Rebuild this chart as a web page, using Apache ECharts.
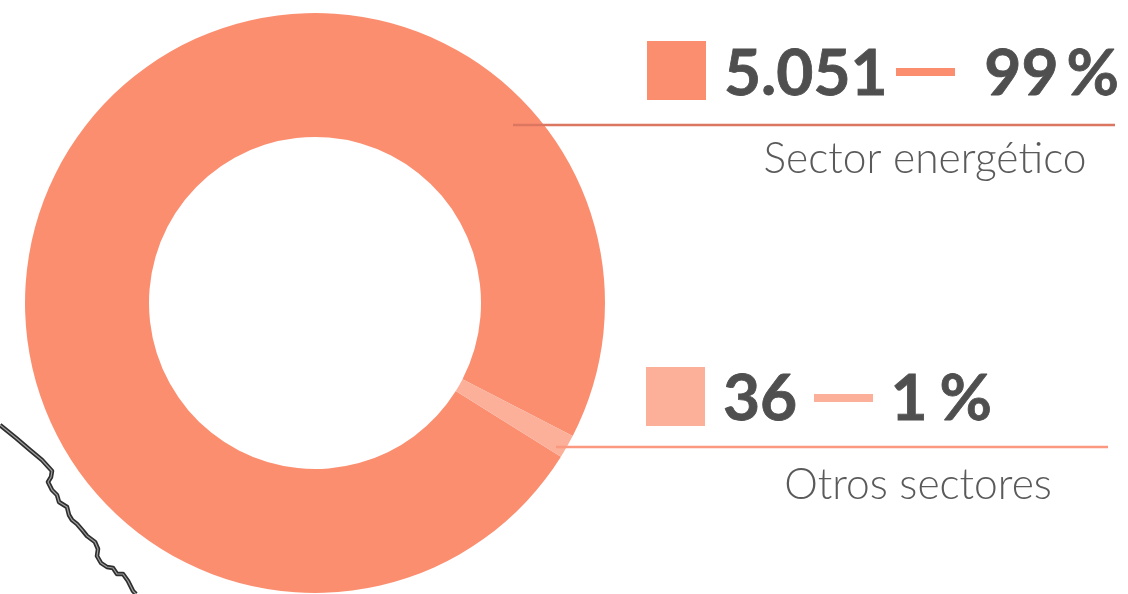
<!DOCTYPE html>
<html><head><meta charset="utf-8">
<style>html,body{margin:0;padding:0;background:#fff}#c{width:1128px;height:594px}</style>
<script src="https://cdn.jsdelivr.net/npm/echarts@6/dist/echarts.min.js"></script>
</head><body><div id="c"></div>
<script>
const categories = ['Sector energético', 'Otros sectores'];
const values = [5051, 36];
const valueLabels = ['5.051', '36'];
const percentLabels = ['99\u2009%', '1\u2009\u200a%'];
const colors = ['#FC8E70', '#FCAF99'];
const ruleColors = ['#DB7660', '#FB9880'];

const border = [[0,425],[16,438],[30,450],[42,460],[52,471],[51,477],[48,482],[52,490],[57,495],[59,502],[67,507],[69,515],[72,520],[77,524],[83,531],[87,536],[95,542],[98,549],[97,556],[101,563],[107,567],[113,568],[117,574],[123,574],[128,581],[133,591],[136,594]];

const layout = [
  {sq:[647,41], val:[724,74], dash:[896,68], pct:[1119,74], rule:[513,1115,125], name:[925,159]},
  {sq:[646,367], val:[723,399], dash:[814,394], pct:[992,399], rule:[556,1108,447], name:[918,485]}
];
const graphic = [
  {type:'polyline', z:1, shape:{points:border}, style:{fill:null, stroke:'#2e2e2e', lineWidth:4.5, lineJoin:'round'}},
  {type:'polyline', z:2, shape:{points:border}, style:{fill:null, stroke:'#a0a0a0', lineWidth:1.2, lineJoin:'round'}}
];
categories.forEach((name,i)=>{
  const L = layout[i];
  const bold = {fontWeight:700, fontSize:64, fontFamily:'Lato', fill:'#4F4F4F', stroke:'#4F4F4F', lineWidth:0.8, textVerticalAlign:'middle'};
  graphic.push(
    {type:'rect', z:20, shape:{x:L.sq[0],y:L.sq[1],width:59,height:59}, style:{fill:colors[i]}},
    {type:'rect', z:20, shape:{x:L.dash[0],y:L.dash[1],width:59,height:8}, style:{fill:colors[i]}},
    {type:'line', z:20, shape:{x1:L.rule[0],y1:L.rule[2],x2:L.rule[1],y2:L.rule[2]}, style:{stroke:ruleColors[i],lineWidth:2.5}},
    {type:'text', z:20, x:L.val[0], y:L.val[1], style:Object.assign({text:valueLabels[i], textAlign:'left'}, bold)},
    {type:'text', z:20, x:L.pct[0], y:L.pct[1], style:Object.assign({text:percentLabels[i], textAlign:'right'}, bold)},
    {type:'text', z:20, x:L.name[0], y:L.name[1], style:{text:name, fontWeight:300, fontSize:42.5, fontFamily:'Lato', fill:'#5A5A5A', textAlign:'center', textVerticalAlign:'middle'}}
  );
});
const chart = echarts.init(document.getElementById('c'), null, {renderer:'canvas'});
chart.setOption({
  animation:false,
  backgroundColor:'#fff',
  graphic,
  series:[{
    type:'pie', z:5, center:[315,303], radius:[166,290],
    startAngle:-32, minAngle:4.7, clockwise:true,
    label:{show:false}, labelLine:{show:false}, silent:true,
    data:categories.map((name,i)=>({name, value:values[i], itemStyle:{color:colors[i]}}))
  }]
});
</script></body></html>
